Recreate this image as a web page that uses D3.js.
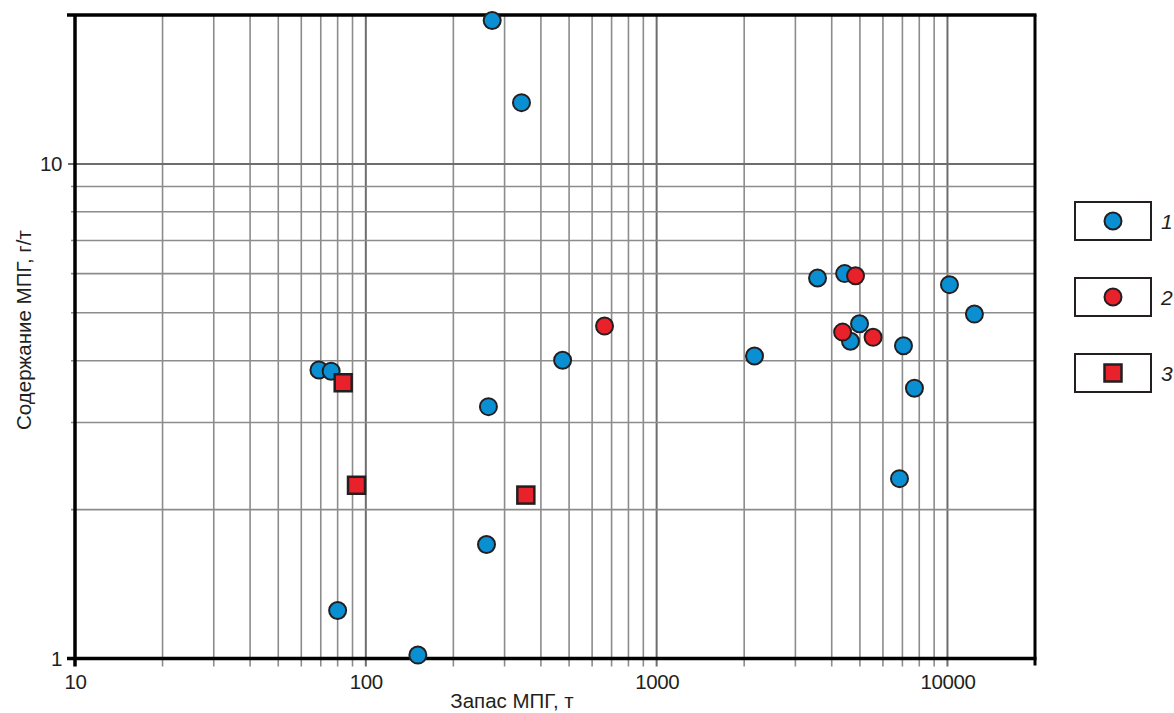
<!DOCTYPE html>
<html>
<head>
<meta charset="utf-8">
<script src="https://cdn.jsdelivr.net/npm/d3@7"></script>
<style>
    body { margin: 0; background: #fff; }
    text { font-family: "Liberation Sans", Arial, sans-serif; fill: #231f20; }
</style>
</head>
<body>
<script>
// data
var blueX = [272, 343, 69, 76, 264, 475, 260, 80, 151, 2170, 3575, 4430, 4985, 4640, 7060, 10160, 12380, 7700, 6840],
    blueY = [19.5, 13.3, 3.83, 3.81, 3.23, 4.01, 1.70, 1.25, 1.016, 4.09, 5.88, 6.0, 4.75, 4.38, 4.29, 5.70, 4.97, 3.52, 2.31];
var redX = [4830, 4360, 5550, 662],
    redY = [5.94, 4.57, 4.46, 4.70];
var squareX = [83.6, 92.9, 355],
    squareY = [3.61, 2.24, 2.14];
var xLabels = [10, 100, 1000, 10000],
    yLabels = [1, 10],
    legendLabels = ["1", "2", "3"];

var width = 1174,
    height = 713,
    margin = { left: 75, top: 15, right: 139, bottom: 54.5 },
    svg, x, y;

var blue = "#0b8fd3",
    red = "#e8212b",
    ink = "#231f20";

function init() {
    svg = d3.select("body").append("svg")
        .attr("width", width)
        .attr("height", height);

    x = d3.scaleLog()
        .domain([10, 20000])
        .range([margin.left, width - margin.right]);

    y = d3.scaleLog()
        .domain([1, 20])
        .range([height - margin.bottom, margin.top]);

    drawGrid();
    drawAxes();
    drawPoints();
    drawLegend();
}

function drawGrid() {
    var g = svg.append("g").attr("class", "grid");
    var y0 = y.range()[0], y1 = y.range()[1];

    // vertical lines, they stick out a bit under the bottom axis
    g.selectAll("line.vx")
        .data(x.ticks().filter(function (d) { return d > 10 && d < 20000; }))
        .enter().append("line")
        .attr("class", "vx")
        .attr("x1", function (d) { return x(d); })
        .attr("x2", function (d) { return x(d); })
        .attr("y1", y1)
        .attr("y2", y0 + 8)
        .attr("stroke", function (d) { return xLabels.indexOf(d) >= 0 ? "#6d6d6d" : "#8c8c8c"; })
        .attr("stroke-width", function (d) { return xLabels.indexOf(d) >= 0 ? 2 : 1.6; });

    g.selectAll("line.hy")
        .data(y.ticks().filter(function (d) { return d > 1 && d <= 10; }))
        .enter().append("line")
        .attr("class", "hy")
        .attr("x1", function (d) { return d == 10 ? x.range()[0] - 7 : x.range()[0] - 4; })
        .attr("x2", x.range()[1])
        .attr("y1", function (d) { return y(d); })
        .attr("y2", function (d) { return y(d); })
        .attr("stroke", function (d) { return d == 10 ? "#6d6d6d" : "#8c8c8c"; })
        .attr("stroke-width", function (d) { return d == 10 ? 2 : 1.6; });
}

function drawAxes() {
    var xl = x.range()[0], xr = x.range()[1],
        yb = y.range()[0], yt = y.range()[1];

    // frame: thick left / top / bottom, right edge
    svg.append("line").attr("x1", xl - 8).attr("x2", xr + 1.5).attr("y1", yt).attr("y2", yt)
        .attr("stroke", "#000").attr("stroke-width", 3.5);
    svg.append("line").attr("x1", xl - 8).attr("x2", xr + 1.5).attr("y1", yb).attr("y2", yb)
        .attr("stroke", "#000").attr("stroke-width", 3.5);
    svg.append("line").attr("x1", xl).attr("x2", xl).attr("y1", yt).attr("y2", yb + 8)
        .attr("stroke", "#000").attr("stroke-width", 3.5);
    svg.append("line").attr("x1", xr).attr("x2", xr).attr("y1", yt).attr("y2", yb + 7)
        .attr("stroke", "#000").attr("stroke-width", 3);

    var xAxis = svg.append("g")
        .attr("transform", "translate(0," + yb + ")")
        .call(d3.axisBottom(x)
            .tickValues(xLabels)
            .tickSize(0)
            .tickPadding(16)
            .tickFormat(d3.format("d")));
    xAxis.select(".domain").remove();
    xAxis.selectAll("text")
        .style("font-size", "20.5px")
        .style("letter-spacing", "-0.4px")
        .attr("fill", ink);

    var yAxis = svg.append("g")
        .attr("transform", "translate(" + xl + ",0)")
        .call(d3.axisLeft(y)
            .tickValues(yLabels)
            .tickSize(0)
            .tickPadding(13)
            .tickFormat(d3.format("d")));
    yAxis.select(".domain").remove();
    yAxis.selectAll("text")
        .style("font-size", "20.5px")
        .style("letter-spacing", "-0.4px")
        .attr("fill", ink);

    svg.append("text")
        .attr("x", 512)
        .attr("y", 708)
        .attr("text-anchor", "middle")
        .style("font-size", "20.5px")
        .text("Запас МПГ, т");

    svg.append("text")
        .attr("transform", "translate(31,330) rotate(-90)")
        .attr("text-anchor", "middle")
        .style("font-size", "20.5px")
        .text("Содержание МПГ, г/т");
}

function drawPoints() {
    var r = 8.5, s = 17;

    svg.append("g").selectAll("circle")
        .data(d3.zip(blueX, blueY))
        .enter().append("circle")
        .attr("cx", function (d) { return x(d[0]); })
        .attr("cy", function (d) { return y(d[1]); })
        .attr("r", r)
        .attr("fill", blue)
        .attr("stroke", ink)
        .attr("stroke-width", 2);

    svg.append("g").selectAll("circle")
        .data(d3.zip(redX, redY))
        .enter().append("circle")
        .attr("cx", function (d) { return x(d[0]); })
        .attr("cy", function (d) { return y(d[1]); })
        .attr("r", r)
        .attr("fill", red)
        .attr("stroke", ink)
        .attr("stroke-width", 2);

    svg.append("g").selectAll("rect")
        .data(d3.zip(squareX, squareY))
        .enter().append("rect")
        .attr("x", function (d) { return x(d[0]) - s / 2; })
        .attr("y", function (d) { return y(d[1]) - s / 2; })
        .attr("width", s)
        .attr("height", s)
        .attr("fill", red)
        .attr("stroke", ink)
        .attr("stroke-width", 2.5);
}

function drawLegend() {
    var lg = svg.append("g").attr("class", "legend");
    var boxTop = [202, 278, 354];

    var item = lg.selectAll("g")
        .data(legendLabels)
        .enter().append("g")
        .attr("transform", function (d, i) { return "translate(1075," + boxTop[i] + ")"; });

    item.append("rect")
        .attr("width", 76)
        .attr("height", 38)
        .attr("fill", "#fff")
        .attr("stroke", ink)
        .attr("stroke-width", 2);

    item.filter(function (d, i) { return i < 2; })
        .append("circle")
        .attr("cx", 38)
        .attr("cy", 19)
        .attr("r", 8.5)
        .attr("fill", function (d, i) { return i == 0 ? blue : red; })
        .attr("stroke", ink)
        .attr("stroke-width", 2);

    item.filter(function (d, i) { return i == 2; })
        .append("rect")
        .attr("x", 29.5)
        .attr("y", 10.5)
        .attr("width", 17)
        .attr("height", 17)
        .attr("fill", red)
        .attr("stroke", ink)
        .attr("stroke-width", 2.5);

    item.append("text")
        .attr("x", 86)
        .attr("y", 27)
        .style("font-size", "21px")
        .style("font-style", "italic")
        .text(function (d) { return d; });
}

window.onload = init;
</script>
</body>
</html>
